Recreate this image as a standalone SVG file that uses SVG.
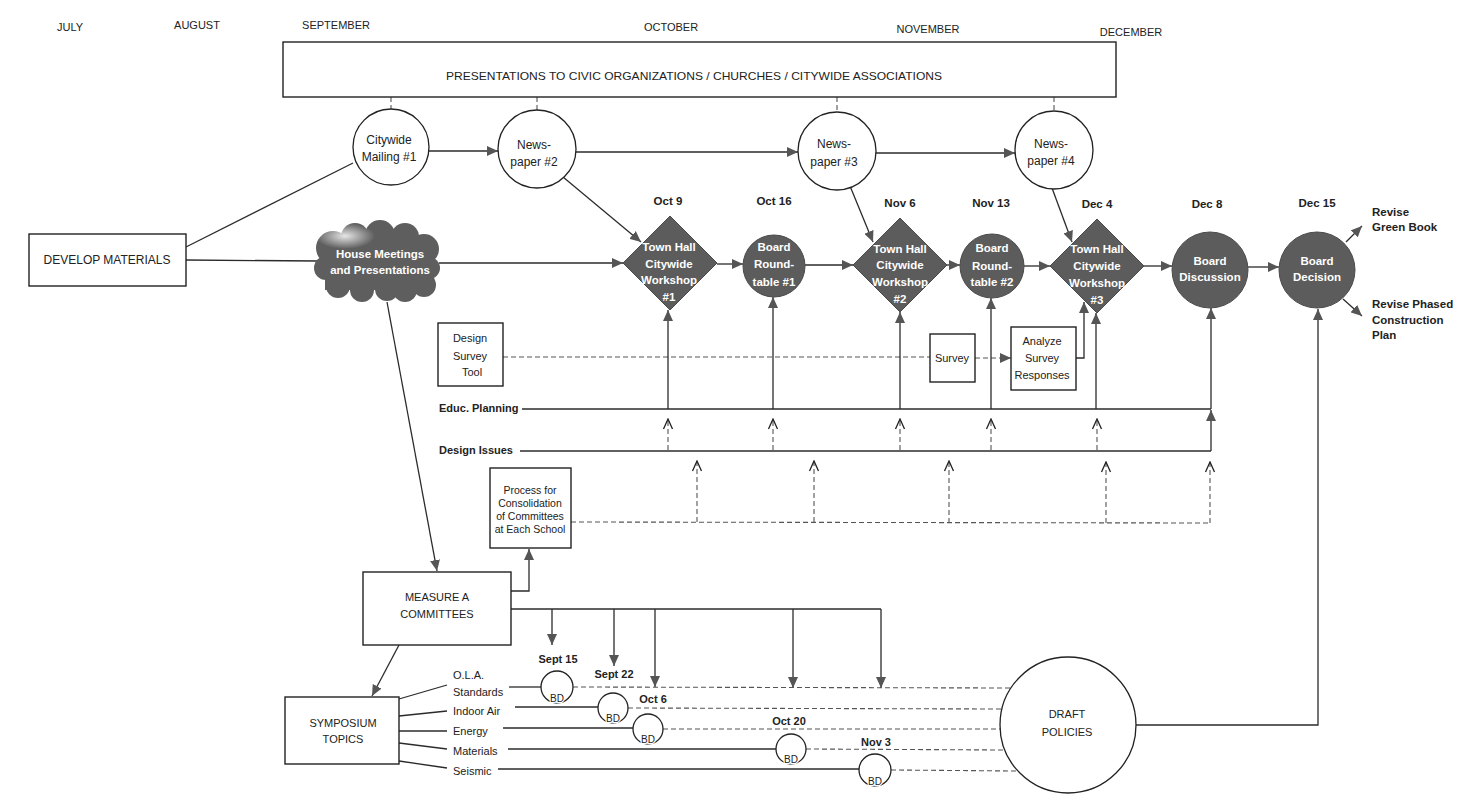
<svg xmlns="http://www.w3.org/2000/svg" width="1458" height="802" viewBox="0 0 1458 802">
<style>
.t{font-family:"Liberation Sans",Arial,sans-serif;fill:#222;font-size:11px}
.m{text-anchor:middle}
.b{font-weight:bold}
.s12{font-size:12px}
.s10{font-size:10.5px}
.w{fill:#fff;font-weight:bold;font-size:11.5px}
.ln{stroke:#2b2b2b;stroke-width:1.3;fill:none}
.ds{stroke:#555;stroke-width:1.1;fill:none;stroke-dasharray:5 3}
.box{fill:#fff;stroke:#222;stroke-width:1.4}
.wc{fill:#fff;stroke:#222;stroke-width:1.3}
.dark{fill:#5c5c5c;stroke:#4a4a4a;stroke-width:1}
.bd{font-size:10px;paint-order:stroke;stroke:#fff;stroke-width:2.5}
</style>
<defs>
<marker id="ah" viewBox="0 0 11 10" refX="11" refY="5" markerWidth="11" markerHeight="10" markerUnits="userSpaceOnUse" orient="auto"><path d="M0,0 L11,5 L0,10 z" fill="#555"/></marker>
<marker id="ch" viewBox="-1 -6 12 12" refX="10" refY="0" markerWidth="12" markerHeight="12" markerUnits="userSpaceOnUse" orient="auto"><path d="M0,-4.5 L10,0 L0,4.5" fill="none" stroke="#222" stroke-width="1.3"/></marker>
<radialGradient id="smudge" cx="0.5" cy="0.5" r="0.5"><stop offset="0" stop-color="#fff" stop-opacity="0.85"/><stop offset="1" stop-color="#fff" stop-opacity="0"/></radialGradient>
</defs>
<rect width="1458" height="802" fill="#fff"/>

<g id="months" class="t">
<text class="m" x="70" y="31">JULY</text>
<text class="m" x="197" y="29">AUGUST</text>
<text class="m" x="336" y="29">SEPTEMBER</text>
<text class="m" x="671" y="31">OCTOBER</text>
<text class="m" x="928" y="33">NOVEMBER</text>
<text class="m" x="1131" y="36">DECEMBER</text>
</g>

<g id="connectors">
<!-- presentations to media -->
<line class="ds" x1="391" y1="97" x2="391" y2="109"/>
<line class="ds" x1="537" y1="97" x2="537" y2="110"/>
<line class="ds" x1="837" y1="97" x2="837" y2="112"/>
<line class="ds" x1="1054" y1="97" x2="1054" y2="111"/>
<!-- media row -->
<line class="ln" x1="429" y1="151" x2="498" y2="151" marker-end="url(#ah)"/>
<line class="ln" x1="576" y1="152" x2="798" y2="152" marker-end="url(#ah)"/>
<line class="ln" x1="876" y1="153" x2="1015" y2="153" marker-end="url(#ah)"/>
<line class="ln" x1="563" y1="177" x2="641" y2="242" marker-end="url(#ah)"/>
<line class="ln" x1="850" y1="186" x2="873" y2="242" marker-end="url(#ah)"/>
<line class="ln" x1="1052" y1="188" x2="1072" y2="242" marker-end="url(#ah)"/>
<!-- develop materials -->
<line class="ln" x1="186" y1="247" x2="353" y2="163"/>
<line class="ln" x1="186" y1="260" x2="318" y2="261"/>
<!-- main row -->
<line class="ln" x1="439" y1="263" x2="623" y2="263" marker-end="url(#ah)"/>
<line class="ln" x1="717" y1="264" x2="743" y2="264" marker-end="url(#ah)"/>
<line class="ln" x1="805" y1="265" x2="853" y2="265" marker-end="url(#ah)"/>
<line class="ln" x1="946" y1="265" x2="960" y2="265" marker-end="url(#ah)"/>
<line class="ln" x1="1024" y1="266" x2="1050" y2="266" marker-end="url(#ah)"/>
<line class="ln" x1="1144" y1="266" x2="1172" y2="266" marker-end="url(#ah)"/>
<line class="ln" x1="1248" y1="267" x2="1279" y2="267" marker-end="url(#ah)"/>
<line class="ln" x1="1346" y1="242" x2="1362" y2="226" marker-end="url(#ah)"/>
<line class="ln" x1="1343" y1="299" x2="1362" y2="316" marker-end="url(#ah)"/>
<!-- survey -->
<line class="ds" x1="503" y1="357" x2="930" y2="357"/>
<line class="ds" x1="975" y1="358" x2="1011" y2="358" marker-end="url(#ah)"/>
<polyline class="ln" points="1076,358 1084,358 1084,302" marker-end="url(#ah)"/>
<!-- educ planning -->
<line class="ln" x1="522" y1="409" x2="1211" y2="409"/>
<line class="ln" x1="668" y1="409" x2="668" y2="310" marker-end="url(#ah)"/>
<line class="ln" x1="773" y1="409" x2="773" y2="297" marker-end="url(#ah)"/>
<line class="ln" x1="900" y1="409" x2="900" y2="312" marker-end="url(#ah)"/>
<line class="ln" x1="991" y1="409" x2="991" y2="298" marker-end="url(#ah)"/>
<line class="ln" x1="1096" y1="409" x2="1096" y2="313" marker-end="url(#ah)"/>
<!-- design issues -->
<line class="ln" x1="520" y1="451" x2="1211" y2="451"/>
<line class="ln" x1="1211" y1="451" x2="1211" y2="410" marker-end="url(#ah)"/>
<line class="ln" x1="1211" y1="409" x2="1211" y2="308" marker-end="url(#ah)"/>
<line class="ds" x1="668" y1="450" x2="668" y2="419" marker-end="url(#ch)"/>
<line class="ds" x1="773" y1="450" x2="773" y2="419" marker-end="url(#ch)"/>
<line class="ds" x1="900" y1="450" x2="900" y2="419" marker-end="url(#ch)"/>
<line class="ds" x1="991" y1="450" x2="991" y2="419" marker-end="url(#ch)"/>
<line class="ds" x1="1097" y1="450" x2="1097" y2="419" marker-end="url(#ch)"/>
<!-- process for consolidation -->
<line class="ds" x1="571" y1="522" x2="1210" y2="523"/>
<line class="ds" x1="697" y1="522" x2="697" y2="461" marker-end="url(#ch)"/>
<line class="ds" x1="814" y1="522" x2="814" y2="461" marker-end="url(#ch)"/>
<line class="ds" x1="949" y1="523" x2="949" y2="461" marker-end="url(#ch)"/>
<line class="ds" x1="1106" y1="523" x2="1106" y2="462" marker-end="url(#ch)"/>
<line class="ds" x1="1210" y1="523" x2="1210" y2="462" marker-end="url(#ch)"/>
<!-- house meetings to measure A -->
<line class="ln" x1="387" y1="302" x2="437" y2="571" marker-end="url(#ah)"/>
<polyline class="ln" points="511,591 529,591 529,549" marker-end="url(#ah)"/>
<line class="ln" x1="511" y1="609" x2="881" y2="609"/>
<line class="ln" x1="552" y1="609" x2="552" y2="645" marker-end="url(#ah)"/>
<line class="ln" x1="614" y1="609" x2="614" y2="666" marker-end="url(#ah)"/>
<line class="ln" x1="655" y1="609" x2="655" y2="687" marker-end="url(#ah)"/>
<line class="ln" x1="793" y1="609" x2="793" y2="688" marker-end="url(#ah)"/>
<line class="ln" x1="881" y1="609" x2="881" y2="688" marker-end="url(#ah)"/>
<line class="ln" x1="399" y1="645" x2="372" y2="696" marker-end="url(#ah)"/>
<!-- symposium topics -->
<line class="ln" x1="399" y1="699" x2="447" y2="685"/>
<line class="ln" x1="399" y1="716" x2="447" y2="711"/>
<line class="ln" x1="399" y1="731" x2="447" y2="731"/>
<line class="ln" x1="399" y1="743" x2="447" y2="749"/>
<line class="ln" x1="399" y1="761" x2="447" y2="768"/>
<line class="ln" x1="509" y1="687" x2="541" y2="687"/>
<line class="ln" x1="515" y1="707" x2="598" y2="707"/>
<line class="ln" x1="503" y1="728" x2="633" y2="728"/>
<line class="ln" x1="508" y1="749" x2="776" y2="749"/>
<line class="ln" x1="498" y1="769" x2="859" y2="769"/>
<line class="ds" x1="573" y1="687" x2="1012" y2="688"/>
<line class="ds" x1="628" y1="708" x2="1002" y2="709"/>
<line class="ds" x1="663" y1="729" x2="1000" y2="729"/>
<line class="ds" x1="806" y1="749" x2="1004" y2="750"/>
<line class="ds" x1="891" y1="770" x2="1017" y2="771"/>
<!-- draft policies to board decision -->
<polyline class="ln" points="1136,725 1318,725 1318,309" marker-end="url(#ah)"/>
</g>

<g id="presentations">
<rect class="box" x="283" y="42" width="833" height="55"/>
<text class="t m" x="694" y="80" textLength="496" lengthAdjust="spacingAndGlyphs">PRESENTATIONS TO CIVIC ORGANIZATIONS  /  CHURCHES  /  CITYWIDE ASSOCIATIONS</text>
</g>

<g id="develop-materials">
<rect class="box" x="29" y="234" width="157" height="52"/>
<text class="t m s12" x="107" y="264">DEVELOP MATERIALS</text>
</g>

<g id="citywide-mailing">
<circle class="wc" cx="391" cy="147" r="38"/>
<text class="t m s12" x="389" y="144">Citywide</text>
<text class="t m s12" x="389" y="161">Mailing #1</text>
</g>
<g id="newspaper-2">
<circle class="wc" cx="537" cy="149" r="39"/>
<text class="t m s12" x="534" y="149">News-</text>
<text class="t m s12" x="534" y="166">paper #2</text>
</g>
<g id="newspaper-3">
<circle class="wc" cx="837" cy="151" r="39"/>
<text class="t m s12" x="834" y="148">News-</text>
<text class="t m s12" x="834" y="166">paper #3</text>
</g>
<g id="newspaper-4">
<circle class="wc" cx="1054" cy="150" r="39"/>
<text class="t m s12" x="1051" y="148">News-</text>
<text class="t m s12" x="1051" y="165">paper #4</text>
</g>

<g id="house-meetings">
<g fill="#5e5e5e">
<circle cx="333" cy="248" r="17"/><circle cx="355" cy="237" r="14"/><circle cx="380" cy="235" r="15"/><circle cx="405" cy="237" r="14"/><circle cx="424" cy="249" r="15"/><circle cx="429" cy="268" r="11"/><circle cx="424" cy="285" r="12"/><circle cx="405" cy="290" r="12"/><circle cx="387" cy="289" r="12"/><circle cx="362" cy="290" r="12"/><circle cx="338" cy="286" r="12"/><circle cx="326" cy="268" r="12"/>
<rect x="325" y="240" width="104" height="50"/>
</g>
<ellipse cx="345" cy="236" rx="30" ry="13" fill="url(#smudge)"/>
<text class="t m w" x="380" y="258">House Meetings</text>
<text class="t m w" x="380" y="274">and Presentations</text>
</g>

<g id="dates" class="t m b" style="font-size:11.5px">
<text x="668" y="205">Oct 9</text>
<text x="774" y="205">Oct 16</text>
<text x="900" y="207">Nov 6</text>
<text x="991" y="207">Nov 13</text>
<text x="1097" y="208">Dec 4</text>
<text x="1207" y="208">Dec 8</text>
<text x="1317" y="207">Dec 15</text>
</g>

<g id="town-hall-1">
<polygon class="dark" points="670,216 717,263 670,310 623,263"/>
<text class="t m w" x="669" y="251">Town Hall</text>
<text class="t m w" x="669" y="268">Citywide</text>
<text class="t m w" x="669" y="284">Workshop</text>
<text class="t m w" x="669" y="301">#1</text>
</g>
<g id="board-roundtable-1">
<circle class="dark" cx="774" cy="266" r="31"/>
<text class="t m w" x="774" y="251">Board</text>
<text class="t m w" x="774" y="268">Round-</text>
<text class="t m w" x="774" y="286">table #1</text>
</g>
<g id="town-hall-2">
<polygon class="dark" points="900,218 947,265 900,312 853,265"/>
<text class="t m w" x="900" y="253">Town Hall</text>
<text class="t m w" x="900" y="269">Citywide</text>
<text class="t m w" x="900" y="286">Workshop</text>
<text class="t m w" x="900" y="303">#2</text>
</g>
<g id="board-roundtable-2">
<circle class="dark" cx="992" cy="266" r="32"/>
<text class="t m w" x="992" y="252">Board</text>
<text class="t m w" x="992" y="270">Round-</text>
<text class="t m w" x="992" y="286">table #2</text>
</g>
<g id="town-hall-3">
<polygon class="dark" points="1097,219 1144,266 1097,313 1050,266"/>
<text class="t m w" x="1097" y="253">Town Hall</text>
<text class="t m w" x="1097" y="270">Citywide</text>
<text class="t m w" x="1097" y="287">Workshop</text>
<text class="t m w" x="1097" y="304">#3</text>
</g>
<g id="board-discussion">
<circle class="dark" cx="1210" cy="270" r="38"/>
<text class="t m w" x="1210" y="265">Board</text>
<text class="t m w" x="1210" y="281">Discussion</text>
</g>
<g id="board-decision">
<circle class="dark" cx="1317" cy="270" r="38"/>
<text class="t m w" x="1317" y="265">Board</text>
<text class="t m w" x="1317" y="281">Decision</text>
</g>

<g id="revise-green-book" class="t b" style="font-size:11.5px">
<text x="1372" y="216">Revise</text>
<text x="1372" y="231">Green Book</text>
</g>
<g id="revise-construction-plan" class="t b" style="font-size:11.5px">
<text x="1372" y="308">Revise Phased</text>
<text x="1372" y="324">Construction</text>
<text x="1372" y="339">Plan</text>
</g>

<g id="design-survey-tool">
<rect class="box" x="438" y="323" width="65" height="63"/>
<text class="t m" x="470" y="342">Design</text>
<text class="t m" x="470" y="360">Survey</text>
<text class="t m" x="472" y="376">Tool</text>
</g>
<g id="survey">
<rect class="box" x="930" y="334" width="45" height="48"/>
<text class="t m" x="952" y="362">Survey</text>
</g>
<g id="analyze-survey">
<rect class="box" x="1011" y="327" width="65" height="63"/>
<text class="t m" x="1042" y="345">Analyze</text>
<text class="t m" x="1042" y="362">Survey</text>
<text class="t m" x="1042" y="379">Responses</text>
</g>

<g id="educ-planning"><text class="t b" x="439" y="412">Educ. Planning</text></g>
<g id="design-issues"><text class="t b" x="439" y="454">Design Issues</text></g>

<g id="process-consolidation">
<rect class="box" x="490" y="468" width="81" height="80"/>
<text class="t m s10" x="530" y="494">Process for</text>
<text class="t m s10" x="530" y="507">Consolidation</text>
<text class="t m s10" x="530" y="520">of Committees</text>
<text class="t m s10" x="530" y="533">at Each School</text>
</g>

<g id="measure-a">
<rect class="box" x="363" y="572" width="148" height="73"/>
<text class="t m" x="437" y="601">MEASURE A</text>
<text class="t m" x="437" y="618">COMMITTEES</text>
</g>

<g id="symposium-topics">
<rect class="box" x="285" y="697" width="114" height="67"/>
<text class="t m" x="343" y="727">SYMPOSIUM</text>
<text class="t m" x="343" y="743">TOPICS</text>
</g>

<g id="topics" class="t">
<text x="453" y="679">O.L.A.</text>
<text x="453" y="696">Standards</text>
<text x="453" y="715">Indoor Air</text>
<text x="453" y="735">Energy</text>
<text x="453" y="755">Materials</text>
<text x="453" y="775">Seismic</text>
</g>

<g id="bd-sept15">
<circle class="wc" cx="557" cy="687" r="16"/>
<text class="t m bd" x="557" y="702">BD</text>
<text class="t m b" x="558" y="663">Sept 15</text>
</g>
<g id="bd-sept22">
<circle class="wc" cx="613" cy="708" r="15"/>
<text class="t m bd" x="613" y="722">BD</text>
<text class="t m b" x="614" y="678">Sept 22</text>
</g>
<g id="bd-oct6">
<circle class="wc" cx="648" cy="729" r="15"/>
<text class="t m bd" x="648" y="743">BD</text>
<text class="t m b" x="653" y="703">Oct 6</text>
</g>
<g id="bd-oct20">
<circle class="wc" cx="791" cy="749" r="15"/>
<text class="t m bd" x="791" y="763">BD</text>
<text class="t m b" x="789" y="725">Oct 20</text>
</g>
<g id="bd-nov3">
<circle class="wc" cx="875" cy="770" r="16"/>
<text class="t m bd" x="875" y="785">BD</text>
<text class="t m b" x="876" y="746">Nov 3</text>
</g>

<g id="draft-policies">
<circle class="wc" cx="1068" cy="725" r="68"/>
<text class="t m" x="1067" y="718">DRAFT</text>
<text class="t m" x="1067" y="736">POLICIES</text>
</g>
</svg>
